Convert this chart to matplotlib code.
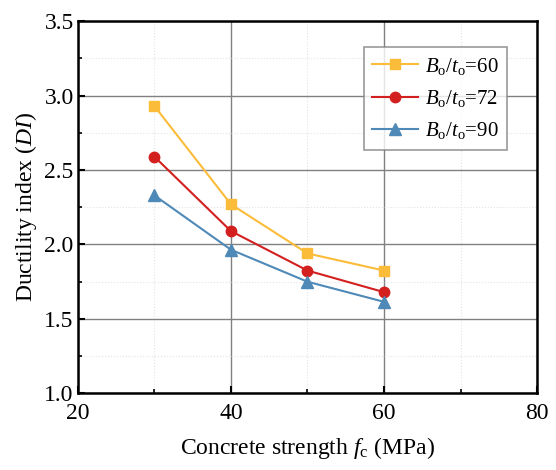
import numpy as np
import matplotlib.pyplot as plt
from matplotlib.ticker import MultipleLocator

plt.rcParams['font.family'] = ['Liberation Serif', 'DejaVu Serif']
plt.rcParams['mathtext.fontset'] = 'custom'
plt.rcParams['mathtext.rm'] = 'Liberation Serif'
plt.rcParams['mathtext.it'] = 'Liberation Serif:italic'

fc = [30, 40, 50, 60]
di_60 = [2.93, 2.27, 1.94, 1.825]
di_72 = [2.59, 2.09, 1.825, 1.68]
di_90 = [2.33, 1.965, 1.75, 1.615]

col60 = '#FBBC3A'
col72 = '#D41F1F'
col90 = '#4E89B7'

fig, ax = plt.subplots(figsize=(5.56, 4.70), dpi=100)
fig.subplots_adjust(left=0.14, right=0.966, top=0.955, bottom=0.163)

ax.plot(fc, di_60, color=col60, marker='s', markersize=7, linewidth=1.5, label=r'$B_\mathrm{o}/t_\mathrm{o}$=60')
ax.plot(fc, di_72, color=col72, marker='o', markersize=7.5, linewidth=1.5, label=r'$B_\mathrm{o}/t_\mathrm{o}$=72')
ax.plot(fc, di_90, color=col90, marker='^', markersize=8, linewidth=1.5, label=r'$B_\mathrm{o}/t_\mathrm{o}$=90')

ax.set_xlim(20, 80)
ax.set_ylim(1.0, 3.5)
ax.xaxis.set_major_locator(MultipleLocator(20))
ax.xaxis.set_minor_locator(MultipleLocator(10))
ax.yaxis.set_minor_locator(MultipleLocator(0.25))
ax.set_yticks([1.0, 1.5, 2.0, 2.5, 3.0, 3.5])
ax.set_yticklabels(['1.0', '1.5', '2.0', '2.5', '3.0', '3.5'])

ax.grid(which='major', color='#808080', linewidth=1.0, linestyle='-')
ax.grid(which='minor', color='#e4e4e4', linewidth=0.8, linestyle=':')
ax.set_axisbelow(True)

ax.tick_params(which='both', direction='in', top=False, right=False, labelsize=17)
ax.tick_params(which='major', length=5, width=1.5)
ax.tick_params(which='minor', length=3, width=1.2)
ax.tick_params(axis='x', which='major', pad=7)
ax.tick_params(axis='y', which='major', pad=3)
for s in ax.spines.values():
    s.set_linewidth(1.8)

ax.set_xlabel(r'Concrete strength $f_\mathrm{c}$ (MPa)', fontsize=17, labelpad=8)
ax.set_ylabel(r'Ductility index ($DI$)', fontsize=17, labelpad=4)

leg = ax.legend(loc='upper right', bbox_to_anchor=(0.935, 0.93), fontsize=15, fancybox=False,
                edgecolor='#808080', handlelength=2.2, handletextpad=0.35, borderpad=0.4,
                labelspacing=0.55, borderaxespad=0)
leg.get_frame().set_linewidth(1.2)

fig.savefig('out.png', dpi=100)
